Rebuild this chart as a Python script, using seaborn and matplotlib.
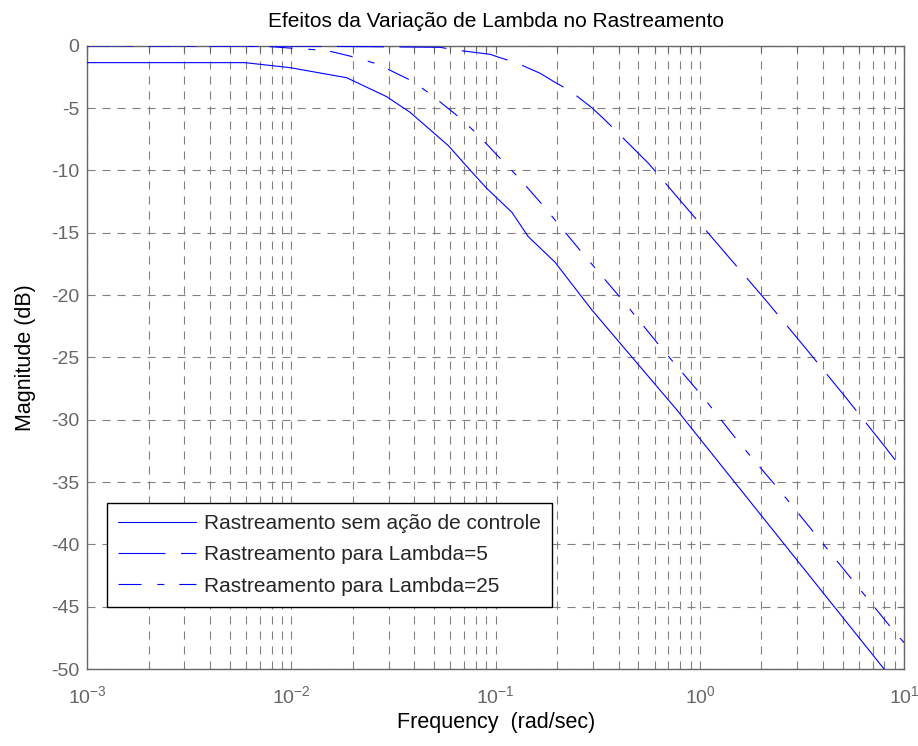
import numpy as np
import pandas as pd
import matplotlib
matplotlib.use("Agg")
import matplotlib.pyplot as plt
from matplotlib.ticker import LogLocator, FixedLocator, NullFormatter
import seaborn as sns

# Frequency response samples (rad/sec, dB)
freq_open = [0.001, 0.00593, 0.00985, 0.01867, 0.0293, 0.0381, 0.0587, 0.0749,
             0.0904, 0.120, 0.1445, 0.1953, 0.2954, 0.770, 1.208, 7.96, 10.0]
mag_open = [-1.36, -1.36, -1.76, -2.57, -4.09, -5.34, -8.02, -9.97,
            -11.44, -13.36, -15.32, -17.37, -21.19, -29.21, -33.22, -50.0, -52.0]

freq_l5 = [0.001, 0.01, 0.034, 0.0535, 0.0633, 0.0939, 0.105, 0.1245, 0.165,
           0.1953, 0.231, 0.2954, 0.343, 0.3915, 0.559, 0.626, 0.877, 0.982,
           1.377, 1.542, 2.16, 3.34, 5.19, 8.05, 10.0]
mag_l5 = [0.0, -0.03, -0.1, -0.13, -0.34, -0.69, -0.96, -1.33, -2.21,
          -2.94, -3.61, -4.97, -5.96, -6.90, -9.43, -10.37, -13.18, -14.11,
          -16.92, -17.85, -20.66, -24.4, -28.25, -32.18, -34.2]

freq_l25 = [0.001, 0.005, 0.00802, 0.0102, 0.01336, 0.01577, 0.0205, 0.0263,
            0.039, 0.0478, 0.067, 0.0811, 0.109, 0.130, 0.1725, 0.2043, 0.2678,
            0.4204, 0.6524, 1.024, 1.572, 2.466, 3.828, 5.875, 9.12, 10.0]
mag_l25 = [0.0, -0.03, -0.08, -0.21, -0.33, -0.48, -0.93, -1.47,
           -2.83, -3.87, -5.80, -7.08, -9.30, -10.61, -12.91, -14.38, -16.7,
           -20.47, -24.32, -28.09, -31.94, -35.71, -39.56, -43.33, -47.18, -47.9]

series_names = ["Rastreamento sem ação de controle",
                "Rastreamento para Lambda=5",
                "Rastreamento para Lambda=25"]

y_ticks = [0, -5, -10, -15, -20, -25, -30, -35, -40, -45, -50]
x_decades = [1e-3, 1e-2, 1e-1, 1e0, 1e1]
x_tick_labels = [r"$\mathregular{10^{-3}}$", r"$\mathregular{10^{-2}}$",
                 r"$\mathregular{10^{-1}}$", r"$\mathregular{10^{0}}$",
                 r"$\mathregular{10^{1}}$"]

df = pd.concat([
    pd.DataFrame({"freq": freq_open, "mag": mag_open, "serie": series_names[0]}),
    pd.DataFrame({"freq": freq_l5, "mag": mag_l5, "serie": series_names[1]}),
    pd.DataFrame({"freq": freq_l25, "mag": mag_l25, "serie": series_names[2]}),
], ignore_index=True)

sns.set_style("white")
plt.rcParams["font.family"] = ["Liberation Sans", "DejaVu Sans"]
plt.rcParams["mathtext.fontset"] = "custom"
plt.rcParams["mathtext.rm"] = "Liberation Sans"
plt.rcParams["lines.scale_dashes"] = False

fig = plt.figure(figsize=(9.18, 7.46), dpi=100)
ax = fig.add_axes([87 / 918, 77 / 746, 817.3 / 918, 623.3 / 746])

blue = "#0000ff"
dash_map = {series_names[0]: "",
            series_names[1]: (33.8, 11.2),
            series_names[2]: (16.6, 11.4, 5.0, 10.8)}
sns.lineplot(data=df, x="freq", y="mag", hue="serie", style="serie",
             palette={n: blue for n in series_names}, dashes=dash_map,
             estimator=None, sort=False, linewidth=0.8, ax=ax, legend=False,
             zorder=3)

ax.set_xscale("log")
ax.set_xlim(1e-3, 1e1)
ax.set_ylim(-50, 0)

gray = "#666666"
grid_gray = "#808080"
ax.xaxis.set_major_locator(FixedLocator(x_decades))
ax.set_xticklabels(x_tick_labels)
ax.xaxis.set_minor_locator(LogLocator(base=10, subs=np.arange(2, 10), numticks=20))
ax.xaxis.set_minor_formatter(NullFormatter())
ax.set_yticks(y_ticks)
ax.set_yticklabels([str(v) for v in y_ticks])

ax.grid(True, which="major", axis="both", color=grid_gray, linewidth=0.8,
        linestyle=(0, (5.8, 5.0)))
ax.grid(True, which="minor", axis="x", color=grid_gray, linewidth=0.8,
        linestyle=(0, (5.8, 5.0)))
ax.set_axisbelow(True)

for s in ax.spines.values():
    s.set_color(gray)
    s.set_linewidth(1.0)
    s.set_visible(True)

ax.tick_params(which="both", direction="in", top=True, right=True,
               color=gray, width=0.8)
ax.tick_params(which="major", length=4.5, labelsize=14, labelcolor=gray)
ax.tick_params(axis="x", which="major", pad=12)
ax.tick_params(axis="y", which="major", pad=5.5)
ax.tick_params(which="minor", length=4.5)

ax.set_title("Efeitos da Variação de Lambda no Rastreamento", fontsize=15,
             color="black", pad=13.5)
ax.set_xlabel("Frequency  (rad/sec)", fontsize=15.5, color="black", labelpad=3)
ax.set_ylabel("Magnitude (dB)", fontsize=15.5, color="black", labelpad=11)

handles = ax.get_lines()[:3]
leg = ax.legend(handles, series_names, loc="lower left",
                bbox_to_anchor=(0.0241, 0.1), borderaxespad=0,
                fontsize=15, frameon=True, fancybox=False, framealpha=1,
                edgecolor="black", handlelength=3.75, handletextpad=0.4,
                borderpad=0.53, labelspacing=0.59)
leg.get_frame().set_linewidth(1.0)
leg.set_zorder(5)

fig.savefig("out.png", dpi=100, facecolor="white")
